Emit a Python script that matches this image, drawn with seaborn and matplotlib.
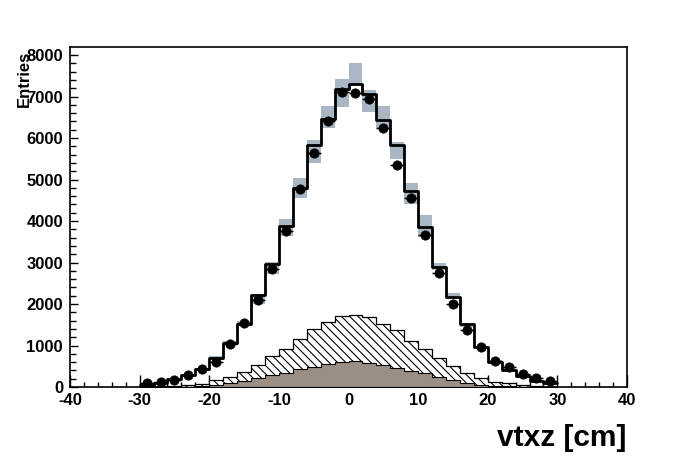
import numpy as np
import pandas as pd
import matplotlib
matplotlib.use("Agg")
import matplotlib.pyplot as plt
import seaborn as sns

# ---- data (bin centres, 2 cm wide bins from -30 to 30) ----
bin_edges = list(range(-30, 32, 2))
bin_centers = list(range(-29, 30, 2))

mc_total = [48, 104, 184, 288, 425, 689, 1066, 1530, 2211, 2957,
            3878, 4800, 5841, 6459, 7180, 7300, 7060, 6435, 5833, 4719,
            3853, 2892, 2171, 1507, 954, 594, 409, 264, 151, 88]

data_vals = [85, 110, 168, 288, 433, 593, 1034, 1531, 2108, 2853,
             3757, 4760, 5641, 6418, 7107, 7091, 6947, 6242, 5353, 4560,
             3670, 2748, 2011, 1370, 969, 633, 473, 312, 208, 152]

band_lo = [40, 95, 170, 270, 400, 649, 1030, 1480, 2011, 2732,
           3630, 4560, 5392, 6243, 6738, 7300, 6618, 6242, 5497, 4416,
           3613, 2812, 2132, 1450, 930, 570, 390, 250, 140, 80]
band_hi = [60, 115, 200, 310, 450, 745, 1100, 1580, 2252, 3013,
           4038, 5032, 5962, 6779, 7420, 7796, 7156, 6763, 5913, 4911,
           4135, 2988, 2276, 1546, 990, 640, 430, 280, 165, 100]

hatched_vals = [5, 10, 20, 40, 70, 160, 232, 369, 529, 745,
                905, 1154, 1386, 1555, 1707, 1747, 1675, 1514, 1370, 1114,
                905, 689, 505, 345, 208, 128, 88, 40, 20, 8]

brown_vals = [2, 4, 8, 12, 20, 40, 88, 152, 208, 288,
              345, 425, 489, 553, 609, 620, 585, 529, 449, 393,
              329, 248, 168, 104, 56, 30, 15, 8, 4, 2]

x_ticks = [-40, -30, -20, -10, 0, 10, 20, 30, 40]
y_ticks = [0, 1000, 2000, 3000, 4000, 5000, 6000, 7000, 8000]

# ---- style ----
sns.set_style("ticks")
plt.rcParams["font.family"] = ["Liberation Sans", "DejaVu Sans"]
plt.rcParams["font.weight"] = "bold"
plt.rcParams["hatch.linewidth"] = 0.8
for key in ["text.color", "axes.labelcolor", "xtick.color", "ytick.color",
            "axes.edgecolor"]:
    plt.rcParams[key] = "black"

df = pd.DataFrame({"x": bin_centers, "mc": mc_total, "data": data_vals,
                   "lo": band_lo, "hi": band_hi,
                   "hatch": hatched_vals, "brown": brown_vals})

fig = plt.figure(figsize=(6.96, 4.72), dpi=100)
ax = fig.add_axes([70 / 696, 1 - 387 / 472, 557 / 696, 340 / 472])

# systematic band
ax.bar(df["x"], df["hi"] - df["lo"], bottom=df["lo"], width=2.0,
       color="#a9b6c3", edgecolor="none", zorder=1)

# MC total step line
sns.histplot(data=df, x="x", weights="mc", bins=bin_edges, element="step",
             fill=False, color="black", linewidth=2.0, ax=ax, zorder=3)

# hatched component
sns.histplot(data=df, x="x", weights="hatch", bins=bin_edges, element="step",
             fill=True, color="white", alpha=1, edgecolor="black",
             hatch="\\\\\\\\", linewidth=0.9, ax=ax, zorder=4)

# brown component
sns.histplot(data=df, x="x", weights="brown", bins=bin_edges, element="step",
             fill=True, color="#9b8f85", alpha=1, edgecolor="black",
             linewidth=0.8, ax=ax, zorder=5)

# data points
ax.errorbar(df["x"], df["data"], xerr=1.0, fmt="none", ecolor="black",
            elinewidth=1.0, zorder=6)
sns.scatterplot(data=df, x="x", y="data", color="black", s=45,
                edgecolor="black", linewidth=0.5, ax=ax, zorder=7)

ax.set_xlim(-40, 40)
ax.set_ylim(0, 8193)
ax.set_xticks(x_ticks)
ax.set_yticks(y_ticks)
ax.set_xticks(np.arange(-40, 41, 2), minor=True)
ax.set_yticks(np.arange(0, 8193, 200), minor=True)
ax.set_xticklabels([str(v) for v in x_ticks], fontsize=12, fontweight="bold",
                   color="black")
ax.set_yticklabels([str(v) for v in y_ticks], fontsize=12, fontweight="bold",
                   color="black")
ax.tick_params(axis="x", which="major", direction="in", length=8.5, width=1.0, pad=4)
ax.tick_params(axis="x", which="minor", direction="in", length=3.5, width=1.0)
ax.tick_params(axis="y", which="major", direction="in", length=6, width=1.0, pad=5)
ax.tick_params(axis="y", which="minor", direction="in", length=4, width=1.0)
ax.tick_params(top=False, right=False)
for sp in ax.spines.values():
    sp.set_visible(True)
    sp.set_linewidth(1.2)
    sp.set_color("black")

ax.set_xlabel("")
ax.set_ylabel("")
fig.text(24 / 696, 1 - 51 / 472, "Entries", rotation=90, ha="center", va="top",
         fontsize=12, fontweight="bold", color="black")
fig.text(626 / 696, 1 - 438 / 472, "vtxz [cm]", ha="right", va="center",
         fontsize=21.5, fontweight="bold", color="black")

fig.savefig("out.png", dpi=100, facecolor="white")
